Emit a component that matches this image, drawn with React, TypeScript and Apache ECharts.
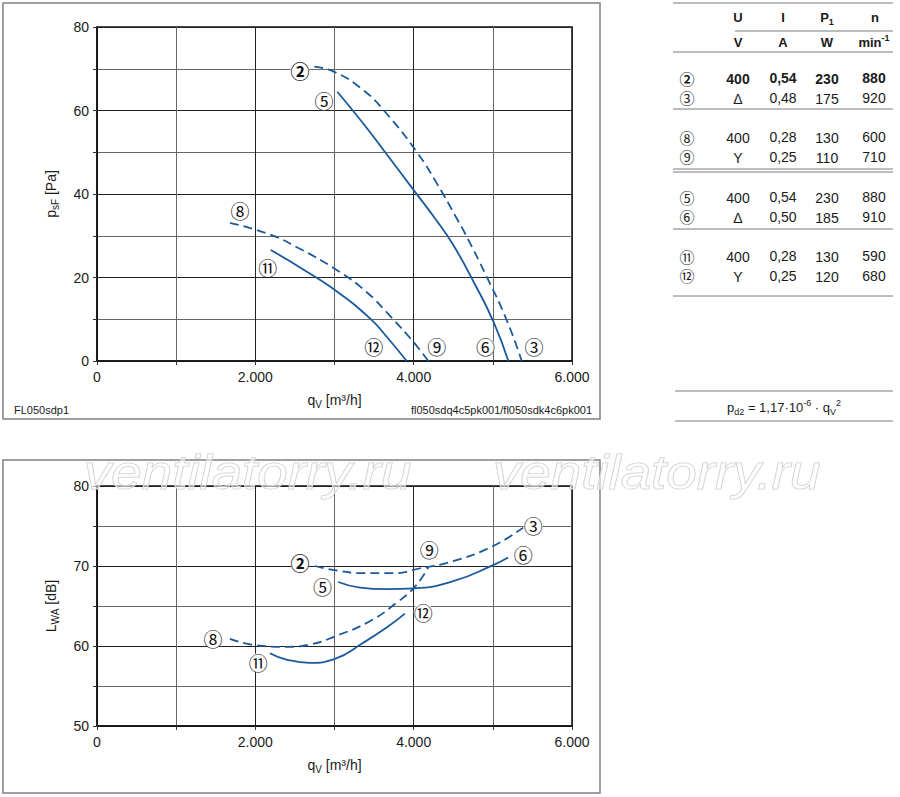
import React, { useEffect, useRef } from 'react';
import * as echarts from 'echarts';

const BLUE = '#1a5a9c';
const FONT = '"Liberation Sans", Arial, Helvetica, sans-serif';
const CJK = '"Noto Sans CJK JP", "DejaVu Sans", sans-serif';

// axis ticks
const xLabelValues = [0, 2000, 4000, 6000];
const xLabelTexts = ['0', '2.000', '4.000', '6.000'];
const psfLabelValues = [0, 20, 40, 60, 80];
const lwaLabelValues = [50, 60, 70, 80];

// p_sF curves [qV, Pa]
const psf23 = [[2745, 70.5], [3005, 69.2], [3363, 64.9], [3638, 59.7], [4038, 50.1], [4291, 42.6], [4543, 34.2], [4648, 30.6], [4922, 20.2], [5175, 9.8], [5365, 0]];
const psf56 = [[3035, 64.5], [3363, 56.9], [3616, 50.6], [4017, 40.5], [4291, 33.6], [4500, 27.8], [4753, 19.1], [5006, 9.5], [5196, 0]];
const psf89 = [[1680, 33.1], [2185, 30.3], [2550, 27.0], [3027, 21.8], [3400, 16.6], [3701, 10.8], [3995, 4.6], [4185, 0]];
const psf1112 = [[2194, 26.6], [2600, 22.0], [3006, 17.0], [3448, 10.2], [3659, 5.8], [3912, 0]];

// L_WA curves [qV, dB]
const lwa23 = [[2753, 70.0], [3026, 69.45], [3363, 69.1], [3742, 69.1], [4078, 69.7], [4499, 70.6], [5004, 72.5], [5383, 74.8]];
const lwa56 = [[3047, 68.0], [3321, 67.3], [3658, 67.1], [4006, 67.2], [4499, 68.1], [5004, 70.1], [5193, 71.05]];
const lwa89 = [[1679, 60.9], [2003, 60.1], [2394, 59.9], [2700, 60.2], [3005, 61.2], [3447, 63.1], [3783, 65.4], [4006, 67.3], [4183, 69.8]];
const lwa1112 = [[2184, 59.1], [2394, 58.3], [2689, 57.9], [3005, 58.4], [3363, 60.4], [3658, 62.3], [3889, 64.05]];

// curve marker labels
const psfMarkNames = ['②', '⑤', '⑧', '⑪', '⑫', '⑨', '⑥', '③'];
const psfMarkX = [2564, 2867, 1806, 2158, 3495, 4293, 4907, 5520];
const psfMarkY = [69.5, 62.3, 36.0, 22.4, 3.4, 3.4, 3.4, 3.4];
const lwaMarkNames = ['②', '⑤', '⑨', '③', '⑥', '⑫', '⑧', '⑪'];
const lwaMarkX = [2563, 2849, 4196, 5509, 5383, 4120, 1466, 2037];
const lwaMarkY = [70.5, 67.4, 72.1, 75.1, 71.5, 64.25, 60.9, 57.9];

// table
const tblIds = ['②', '③', '⑧', '⑨', '⑤', '⑥', '⑪', '⑫'];
const tblU = ['400', 'Δ', '400', 'Y', '400', 'Δ', '400', 'Y'];
const tblI = ['0,54', '0,48', '0,28', '0,25', '0,54', '0,50', '0,28', '0,25'];
const tblP = ['230', '175', '130', '110', '230', '185', '130', '120'];
const tblN = ['880', '920', '600', '710', '880', '910', '590', '680'];
const tblBold = [true, false, false, false, false, false, false, false];

const richBase = (size: number, weight = 'normal') => ({
  a: { fontSize: size, lineHeight: 18, fontFamily: FONT, fontWeight: weight, color: '#1a1a1a' },
  sub: { fontSize: Math.round(size * 0.7), lineHeight: 9, verticalAlign: 'bottom', fontFamily: FONT, fontWeight: weight, color: '#1a1a1a' },
  sup: { fontSize: Math.round(size * 0.7), lineHeight: 9, verticalAlign: 'top', fontFamily: FONT, fontWeight: weight, color: '#1a1a1a' },
});

function fmtThousands(v: number) {
  const i = xLabelValues.indexOf(v);
  return i >= 0 ? xLabelTexts[i] : '';
}

function lineSeries(data: number[][], idx: number, dashed: boolean) {
  return {
    type: 'line',
    xAxisIndex: idx,
    yAxisIndex: idx,
    data,
    smooth: 0.5,
    showSymbol: false,
    silent: true,
    z: 5,
    lineStyle: { color: BLUE, width: 1.8, type: dashed ? [9, 5] : 'solid' },
  };
}

function markSeries(names: string[], xs: number[], ys: number[], idx: number) {
  return {
    type: 'scatter',
    xAxisIndex: idx,
    yAxisIndex: idx,
    symbolSize: 1,
    itemStyle: { color: 'rgba(0,0,0,0)' },
    silent: true,
    z: 6,
    data: names.map((n, i) => ({
      name: n,
      value: [xs[i], ys[i]],
      label: {
        show: true,
        opacity: 1,
        position: 'inside',
        formatter: '{b}',
        fontFamily: CJK,
        fontSize: 19,
        lineHeight: 19,
        fontWeight: i === 0 ? 'bold' : 'normal',
        color: '#111',
        backgroundColor: '#fff',
        borderRadius: 9,
        padding: 0,
      },
    })),
  };
}

function axisPair(idx: number, ymin: number, ymax: number, yint: number, yLabels: number[], yName: string) {
  const x = {
    type: 'value',
    gridIndex: idx,
    min: 0,
    max: 6000,
    interval: 1000,
    name: '{a|q}{sub|V}{a| [m³/h]}',
    nameLocation: 'middle',
    nameGap: 30,
    nameTextStyle: { rich: richBase(14) },
    axisLine: { show: true, onZero: false, lineStyle: { color: '#111', width: 1.5 } },
    axisTick: { show: true, length: 4, lineStyle: { color: '#333' } },
    axisLabel: { formatter: fmtThousands, fontFamily: FONT, fontSize: 14, color: '#1a1a1a', margin: 9 },
    splitLine: { show: true, lineStyle: { color: ['#222', '#666'], width: 1 } },
  };
  const y = {
    type: 'value',
    gridIndex: idx,
    min: ymin,
    max: ymax,
    interval: yint,
    name: yName,
    nameLocation: 'middle',
    nameRotate: 90,
    nameGap: 37,
    nameTextStyle: { rich: richBase(14) },
    axisLine: { show: true, onZero: false, lineStyle: { color: '#111', width: 1.5 } },
    axisTick: { show: true, length: 4, lineStyle: { color: '#333' } },
    axisLabel: {
      formatter: (v: number) => (yLabels.indexOf(v) >= 0 ? String(v) : ''),
      fontFamily: FONT, fontSize: 14, color: '#1a1a1a', margin: 8,
    },
    splitLine: { show: true, lineStyle: { color: ['#222', '#666'], width: 1 } },
  };
  return { x, y };
}

export default function App() {
  const ref = useRef<HTMLDivElement>(null);
  useEffect(() => {
    if (!ref.current) return;
    const chart = echarts.init(ref.current, undefined, { renderer: 'svg' });
    const a0 = axisPair(0, 0, 80, 10, psfLabelValues, '{a|p}{sub|sF}{a| [Pa]}');
    const a1 = axisPair(1, 50, 80, 5, lwaLabelValues, '{a|L}{sub|WA}{a| [dB]}');

    const graphics: any[] = [];
    // frames
    graphics.push({ type: 'rect', shape: { x: 3, y: 3, width: 597, height: 416 }, style: { fill: 'none', stroke: '#808080', lineWidth: 1.5 }, z: 0, silent: true });
    graphics.push({ type: 'rect', shape: { x: 3, y: 460, width: 597, height: 333 }, style: { fill: 'none', stroke: '#808080', lineWidth: 1.5 }, z: 0, silent: true });
    // footers
    graphics.push({ type: 'text', x: 14, y: 410, style: { text: 'FL050sdp1', fontFamily: FONT, fontSize: 11, fill: '#1a1a1a', textVerticalAlign: 'middle' } });
    graphics.push({ type: 'text', x: 592, y: 410, style: { text: 'fl050sdq4c5pk001/fl050sdk4c6pk001', fontFamily: FONT, fontSize: 11, fill: '#1a1a1a', textAlign: 'right', textVerticalAlign: 'middle' } });

    // table lines
    const hl = (x1: number, x2: number, yy: number) => ({ type: 'line', shape: { x1, y1: yy, x2, y2: yy }, style: { stroke: '#7a7a7a', lineWidth: 1 }, silent: true });
    [[673, 3], [735, 31], [673, 52], [673, 109], [673, 169], [673, 172], [673, 229], [673, 296]].forEach(([x1, yy]) => graphics.push(hl(x1, 893, yy)));
    graphics.push(hl(675, 893, 391));
    graphics.push(hl(675, 893, 421));

    const colX = [687, 738, 783, 827, 874];
    const txt = (text: string, x: number, y: number, opts: any = {}) => ({
      type: 'text', x, y,
      style: { text, fontFamily: FONT, fontSize: 14, fill: '#1a1a1a', textAlign: 'center', textVerticalAlign: 'middle', ...opts },
    });
    const rb = richBase(13, 'bold');
    graphics.push(txt('U', colX[1], 17, { fontWeight: 'bold', fontSize: 13 }));
    graphics.push(txt('I', colX[2], 17, { fontWeight: 'bold', fontSize: 13 }));
    graphics.push(txt('{a|P}{sub|1}', colX[3], 17, { rich: rb }));
    graphics.push(txt('n', colX[4] + 1, 17, { fontWeight: 'bold', fontSize: 13 }));
    graphics.push(txt('V', colX[1], 42, { fontWeight: 'bold', fontSize: 13 }));
    graphics.push(txt('A', colX[2], 42, { fontWeight: 'bold', fontSize: 13 }));
    graphics.push(txt('W', colX[3], 42, { fontWeight: 'bold', fontSize: 13 }));
    graphics.push(txt('{a|min}{sup|-1}', colX[4], 42, { rich: rb }));

    const groupY = [78, 137, 197, 256];
    tblIds.forEach((id, i) => {
      const yy = groupY[Math.floor(i / 2)] + (i % 2) * 19.5;
      const w = tblBold[i] ? 'bold' : 'normal';
      graphics.push(txt(id, colX[0], yy, { fontFamily: CJK, fontSize: 15, fontWeight: w }));
      graphics.push(txt(tblU[i], colX[1], yy + 1, { fontWeight: w }));
      graphics.push(txt(tblI[i], colX[2], yy, { fontWeight: w }));
      graphics.push(txt(tblP[i], colX[3], yy + 1, { fontWeight: w }));
      graphics.push(txt(tblN[i], colX[4], yy, { fontWeight: w }));
    });

    graphics.push(txt('{a|p}{sub|d2}{a| = 1,17·10}{sup|-6}{a| · q}{sub|V}{sup|2}', 784, 407, { rich: richBase(13) }));

    // watermark
    ['ventilatorry.ru', 'ventilatorry.ru'].forEach((w, i) => {
      graphics.push({
        type: 'text', x: i === 0 ? 84 : 493, y: 472, scaleX: 1.14, z: 100, silent: true,
        style: {
          text: w, fontFamily: FONT, fontSize: 48, fontStyle: 'italic',
          fill: 'rgba(255,255,255,0.55)', stroke: '#cacaca', lineWidth: 1,
          textVerticalAlign: 'middle',
        },
      });
    });

    chart.setOption({
      animation: false,
      backgroundColor: '#fff',
      grid: [
        { left: 97, top: 27, width: 475, height: 334, show: true, borderColor: '#111', borderWidth: 1.5, backgroundColor: 'transparent' },
        { left: 97, top: 486, width: 475, height: 240, show: true, borderColor: '#111', borderWidth: 1.5, backgroundColor: 'transparent' },
      ],
      xAxis: [a0.x, a1.x],
      yAxis: [a0.y, a1.y],
      series: [
        lineSeries(psf23, 0, true),
        lineSeries(psf56, 0, false),
        lineSeries(psf89, 0, true),
        lineSeries(psf1112, 0, false),
        lineSeries(lwa23, 1, true),
        lineSeries(lwa56, 1, false),
        lineSeries(lwa89, 1, true),
        lineSeries(lwa1112, 1, false),
        markSeries(psfMarkNames, psfMarkX, psfMarkY, 0),
        markSeries(lwaMarkNames, lwaMarkX, lwaMarkY, 1),
      ],
      graphic: { elements: graphics },
    });
    return () => chart.dispose();
  }, []);
  return <div ref={ref} style={{ position: 'absolute', left: 0, top: 0, width: 900, height: 797, background: '#fff' }} />;
}
